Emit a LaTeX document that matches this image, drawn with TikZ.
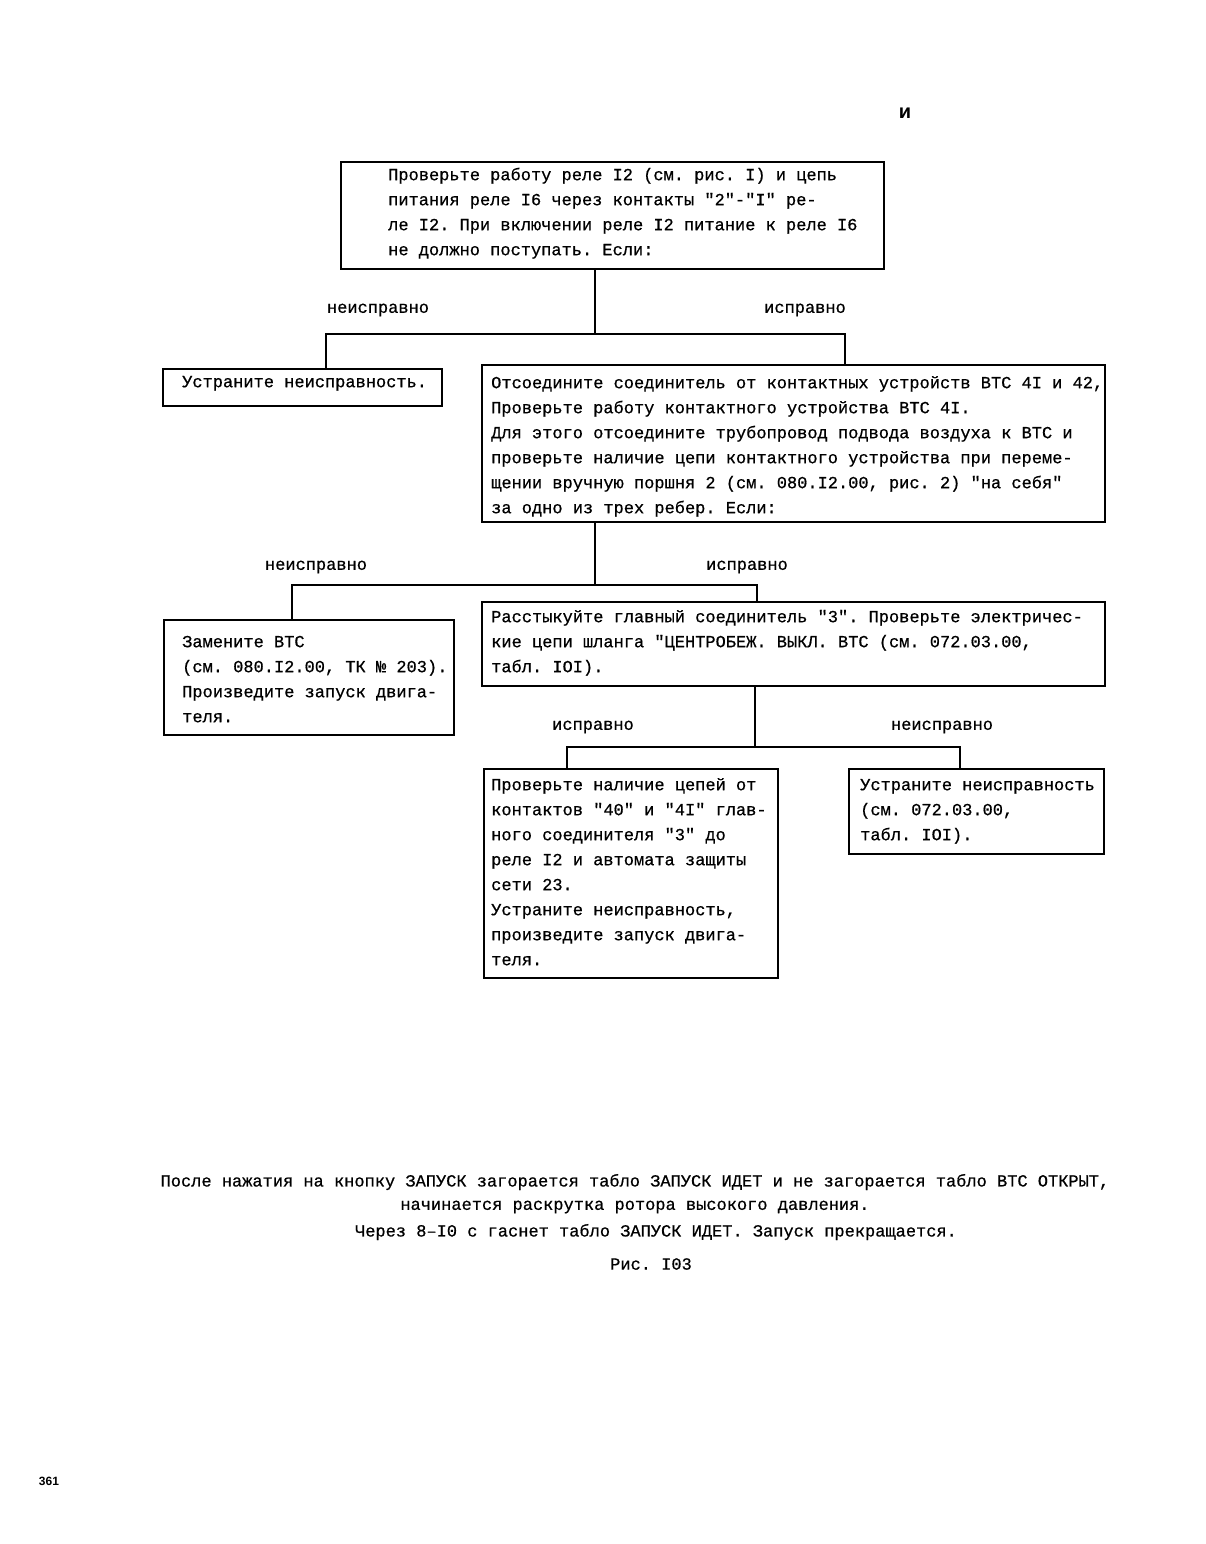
\documentclass[tikz,border=0pt]{standalone}
\usepackage{fontspec}
\newfontfamily\tw[FakeBold=0.6]{Liberation Mono}
\newfontfamily\hv{Liberation Sans}
\frenchspacing
\begin{document}
\begin{tikzpicture}[x=1pt,y=-1pt,
  box/.style={draw, line width=1.8pt, inner sep=0pt, anchor=north west},
  txt/.style={font=\tw\fontsize{17}{25}\selectfont\frenchspacing, align=left, anchor=north west, inner sep=0pt},
  lbl/.style={font=\tw\fontsize{17}{25}\selectfont\frenchspacing, inner sep=0pt},
  conn/.style={line width=1.8pt}]
\fill[white] (0,0) rectangle (1205,1544);
\useasboundingbox (0,0) rectangle (1205,1544);

% boxes
\node[box, minimum width=543pt, minimum height=107pt] (b1) at (340,161) {};
\node[box, minimum width=279pt, minimum height=37pt] (b2) at (162,368) {};
\node[box, minimum width=623pt, minimum height=157pt] (b3) at (481,364) {};
\node[box, minimum width=290pt, minimum height=115pt] (b4) at (163,619) {};
\node[box, minimum width=623pt, minimum height=84pt] (b5) at (481,601) {};
\node[box, minimum width=294pt, minimum height=209pt] (b6) at (483,768) {};
\node[box, minimum width=255pt, minimum height=85pt] (b7) at (848,768) {};

% texts
\node[txt] (t1) at (388,165) {\rule{0pt}{15pt}Проверьте работу реле I2 (см. рис. I) и цепь\\питания реле I6 через контакты "2"-"I" ре-\\ле I2. При включении реле I2 питание к реле I6\\не должно поступать. Если:};
\node[txt] (t2) at (182,372) {\rule{0pt}{15pt}Устраните неисправность.};
\node[txt] (t3) at (491,373) {\rule{0pt}{15pt}Отсоедините соединитель от контактных устройств ВТС 4I и 42,\\Проверьте работу контактного устройства ВТС 4I.\\Для этого отсоедините трубопровод подвода воздуха к ВТС и\\проверьте наличие цепи контактного устройства при переме-\\щении вручную поршня 2 (см. 080.I2.00, рис. 2) "на себя"\\за одно из трех ребер. Если:};
\node[txt] (t4) at (182,632) {\rule{0pt}{15pt}Замените ВТС\\(см. 080.I2.00, ТК № 203).\\Произведите запуск двига-\\теля.};
\node[txt] (t5) at (491,607) {\rule{0pt}{15pt}Расстыкуйте главный соединитель "3". Проверьте электричес-\\кие цепи шланга "ЦЕНТРОБЕЖ. ВЫКЛ. ВТС (см. 072.03.00,\\табл. IOI).};
\node[txt] (t6) at (491,775) {\rule{0pt}{15pt}Проверьте наличие цепей от\\контактов "40" и "4I" глав-\\ного соединителя "3" до\\реле I2 и автомата защиты\\сети 23.\\Устраните неисправность,\\произведите запуск двига-\\теля.};
\node[txt] (t7) at (860,775) {\rule{0pt}{15pt}Устраните неисправность\\(см. 072.03.00,\\табл. IOI).};

% labels
\node[lbl] (l1a) at (378,310) {неисправно};
\node[lbl] (l1b) at (805,310) {исправно};
\node[lbl] (l2a) at (316,567) {неисправно};
\node[lbl] (l2b) at (747,567) {исправно};
\node[lbl] (l3a) at (593,727) {исправно};
\node[lbl] (l3b) at (942,727) {неисправно};

% connectors
\coordinate (j1) at (595,334);
\coordinate (j1l) at (326,334);
\coordinate (j1r) at (845,334);
\draw[conn] (b1.south -| j1) -- (j1);
\draw[conn] (j1l |- b2.north) -- (j1l) -- (j1r) -- (j1r |- b3.north);

\coordinate (j2) at (595,585);
\coordinate (j2l) at (292,585);
\coordinate (j2r) at (757,585);
\draw[conn] (b3.south -| j2) -- (j2);
\draw[conn] (j2l |- b4.north) -- (j2l) -- (j2r) -- (j2r |- b5.north);

\coordinate (j3) at (755,747);
\coordinate (j3l) at (567,747);
\coordinate (j3r) at (960,747);
\draw[conn] (b5.south -| j3) -- (j3);
\draw[conn] (j3l |- b6.north) -- (j3l) -- (j3r) -- (j3r |- b7.north);

% footer
\node[lbl] (f1) at (635,1182) {После нажатия на кнопку ЗАПУСК загорается табло ЗАПУСК ИДЕТ и не загорается табло ВТС ОТКРЫТ,};
\node[lbl] (f2) at (635,1207) {начинается раскрутка ротора высокого давления.};
\node[lbl] (f3) at (656,1232) {Через 8–I0 с гаснет табло ЗАПУСК ИДЕТ. Запуск прекращается.};
\node[lbl] (f4) at (651,1264) {Рис. I03};

\node[font=\hv\bfseries\fontsize{20}{20}\selectfont, inner sep=0pt] (pg) at (905,113) {и};
\node[font=\hv\bfseries\fontsize{12}{12}\selectfont, inner sep=0pt] (pn) at (49,1481) {361};
\end{tikzpicture}
\end{document}
